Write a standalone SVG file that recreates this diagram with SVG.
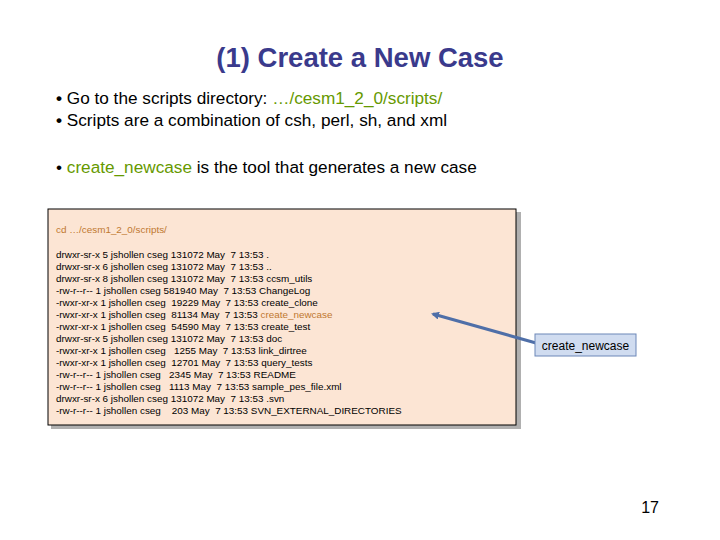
<svg xmlns="http://www.w3.org/2000/svg" width="720" height="540" viewBox="0 0 720 540">
<style>
.t{font-family:"Liberation Sans",Arial,sans-serif;}
.b{font-size:17.2px;fill:#000}
.g{fill:#669900}
.m{font-size:9.9px;fill:#000;white-space:pre}
.o{fill:#C07830}
</style>
<defs><marker id="ah" markerWidth="8" markerHeight="8" refX="6" refY="4" orient="auto" markerUnits="userSpaceOnUse"><path d="M0,0 L8,4 L0,8 z" fill="#4F6FA8"/></marker></defs>
<rect width="720" height="540" fill="#fff"/>
<text class="t" x="360" y="67" text-anchor="middle" font-size="27.5" font-weight="bold" fill="#3A3A8C">(1) Create a New Case</text>
<text class="t b" x="56" y="104"><tspan font-weight="bold">•</tspan> Go to the scripts directory: <tspan class="g">…/cesm1_2_0/scripts/</tspan></text>
<text class="t b" x="56" y="126"><tspan font-weight="bold">•</tspan> Scripts are a combination of csh, perl, sh, and xml</text>
<text class="t b" x="56" y="173">• <tspan class="g">create_newcase</tspan> is the tool that generates a new case</text>
<g id="listing">
<rect x="51" y="212" width="470" height="217" fill="#B0B0B0"/>
<rect x="48" y="209" width="468" height="216" fill="#FCE5D4" stroke="#000" stroke-width="1"/>
<text class="t m" x="56" y="233" xml:space="preserve"><tspan class="o">cd …/cesm1_2_0/scripts/</tspan></text>
<text class="t m" x="56" y="258" xml:space="preserve">drwxr-sr-x 5 jshollen cseg 131072 May  7 13:53 .</text>
<text class="t m" x="56" y="270" xml:space="preserve">drwxr-sr-x 6 jshollen cseg 131072 May  7 13:53 ..</text>
<text class="t m" x="56" y="282" xml:space="preserve">drwxr-sr-x 8 jshollen cseg 131072 May  7 13:53 ccsm_utils</text>
<text class="t m" x="56" y="294" xml:space="preserve">-rw-r--r-- 1 jshollen cseg 581940 May  7 13:53 ChangeLog</text>
<text class="t m" x="56" y="306" xml:space="preserve">-rwxr-xr-x 1 jshollen cseg  19229 May  7 13:53 create_clone</text>
<text class="t m" x="56" y="318" xml:space="preserve">-rwxr-xr-x 1 jshollen cseg  81134 May  7 13:53 <tspan class="o">create_newcase</tspan></text>
<text class="t m" x="56" y="330" xml:space="preserve">-rwxr-xr-x 1 jshollen cseg  54590 May  7 13:53 create_test</text>
<text class="t m" x="56" y="342" xml:space="preserve">drwxr-sr-x 5 jshollen cseg 131072 May  7 13:53 doc</text>
<text class="t m" x="56" y="354" xml:space="preserve">-rwxr-xr-x 1 jshollen cseg   1255 May  7 13:53 link_dirtree</text>
<text class="t m" x="56" y="366" xml:space="preserve">-rwxr-xr-x 1 jshollen cseg  12701 May  7 13:53 query_tests</text>
<text class="t m" x="56" y="378" xml:space="preserve">-rw-r--r-- 1 jshollen cseg   2345 May  7 13:53 README</text>
<text class="t m" x="56" y="390" xml:space="preserve">-rw-r--r-- 1 jshollen cseg   1113 May  7 13:53 sample_pes_file.xml</text>
<text class="t m" x="56" y="402" xml:space="preserve">drwxr-sr-x 6 jshollen cseg 131072 May  7 13:53 .svn</text>
<text class="t m" x="56" y="414" xml:space="preserve">-rw-r--r-- 1 jshollen cseg    203 May  7 13:53 SVN_EXTERNAL_DIRECTORIES</text>
</g>
<g id="connectors">
<line x1="536" y1="343" x2="433" y2="314" stroke="#4F6FA8" stroke-width="3" marker-end="url(#ah)"/>
</g>
<g id="callout">
<rect x="535" y="334" width="101" height="22" fill="#D0DCF0" stroke="#6D87B8" stroke-width="1"/>
<text class="t" x="585.5" y="350" text-anchor="middle" font-size="12" fill="#000">create_newcase</text>
</g>
<text class="t" x="659" y="513" text-anchor="end" font-size="16" fill="#000">17</text>
</svg>
